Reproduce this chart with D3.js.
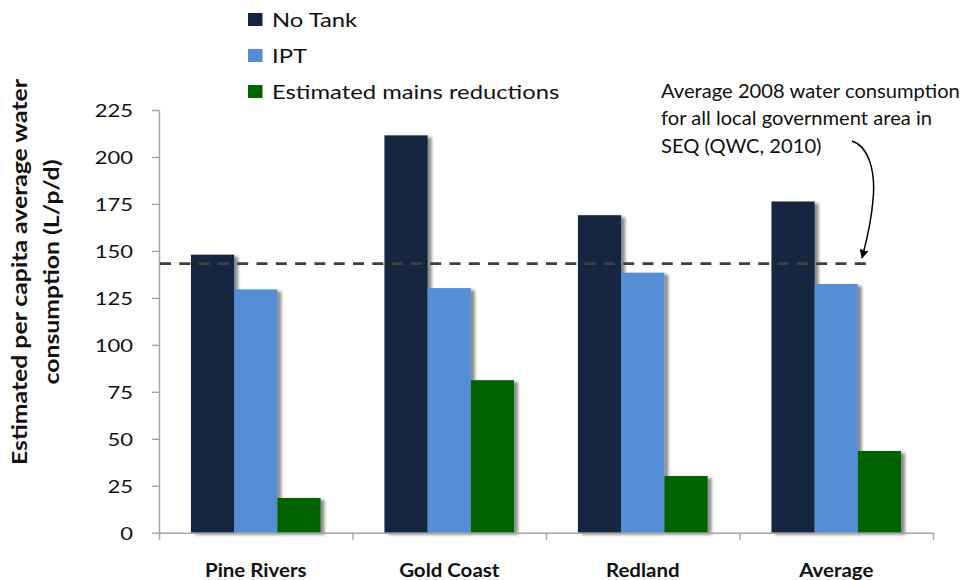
<!DOCTYPE html>
<html>
<head>
<meta charset="utf-8">
<script src="https://cdn.jsdelivr.net/npm/d3@7"></script>
<style>
  html, body { margin: 0; padding: 0; background: #fff; }
  svg { display: block; font-family: Lato, "Open Sans", sans-serif; }
</style>
</head>
<body>
<svg id="chart" width="963" height="580"></svg>
<script>
// ---- data ----
const categories = ["Pine Rivers", "Gold Coast", "Redland", "Average"];
const seriesNames = ["No Tank", "IPT", "Estimated mains reductions"];
const noTank = [148, 211.5, 169, 176.3];
const ipt = [129.5, 130.2, 138.4, 132.4];
const mainsReductions = [18.5, 81.2, 30.2, 43.5];
const yTicks = [0, 25, 50, 75, 100, 125, 150, 175, 200, 225];
const referenceValue = 143.2;
const annotationLines = ["Average 2008 water consumption", "for all local government area in", "SEQ (QWC, 2010)"];
const yTitleLines = ["Estimated per capita average water", "consumption (L/p/d)"];
const colors = ["#12263f", "#558ed5", "#006400"];

const seriesValues = [noTank, ipt, mainsReductions];
const table = categories.map((c, i) => ({
  category: c,
  values: seriesNames.map((s, j) => ({ series: s, idx: j, value: seriesValues[j][i] }))
}));

const svg = d3.select("#chart");

// shadow filter
const defs = svg.append("defs");
const f = defs.append("filter").attr("id", "shadow").attr("x", "-20%").attr("y", "-5%").attr("width", "150%").attr("height", "115%");
f.append("feGaussianBlur").attr("in", "SourceAlpha").attr("stdDeviation", 1.6).attr("result", "b");
f.append("feOffset").attr("in", "b").attr("dx", 3.5).attr("dy", 2).attr("result", "o");
f.append("feComponentTransfer").attr("in", "o").attr("result", "s")
  .append("feFuncA").attr("type", "linear").attr("slope", 0.45);
const fm = f.append("feMerge");
fm.append("feMergeNode").attr("in", "s");
fm.append("feMergeNode").attr("in", "SourceGraphic");

const x0 = 159, x1 = 933, yTop = 110, yBottom = 532.7;

const y = d3.scaleLinear().domain([0, 225]).range([yBottom, yTop]);
const x = d3.scaleBand().domain(categories).range([x0, x1]).paddingInner(0.33).paddingOuter(0.165);
const xs = d3.scaleBand().domain(seriesNames).range([0, x.bandwidth()]).padding(0);
const xb = d3.scaleLinear().domain([0, categories.length]).range([x0, x1]);

// bars
const groups = svg.append("g").selectAll("g").data(table).join("g")
  .attr("transform", d => `translate(${x(d.category)},0)`);
groups.selectAll("rect").data(d => d.values).join("rect")
  .attr("x", d => xs(d.series))
  .attr("y", d => y(d.value))
  .attr("width", xs.bandwidth())
  .attr("height", d => y(0) - y(d.value))
  .attr("fill", d => colors[d.idx])
  .attr("filter", "url(#shadow)");

// y axis
const yAxis = svg.append("g").attr("transform", `translate(${x0},0)`)
  .call(d3.axisLeft(y).tickValues(yTicks).tickSize(7).tickSizeOuter(0).tickPadding(19));
yAxis.select(".domain").attr("stroke", "#a6a6a6").attr("stroke-width", 1.5);
yAxis.selectAll(".tick line").attr("stroke", "#a6a6a6").attr("stroke-width", 1.5);
yAxis.selectAll(".tick text")
  .attr("font-size", 18).attr("fill", "#111").attr("font-family", "Lato")
  .attr("x", 0).attr("dy", "0.36em")
  .attr("transform", "translate(-26,0) scale(1.22,1)");

// x axis (boundary ticks)
const xAxis = svg.append("g").attr("transform", `translate(0,${yBottom})`)
  .call(d3.axisBottom(xb).tickValues(d3.range(categories.length + 1)).tickSize(7).tickSizeOuter(0).tickFormat(""));
xAxis.select(".domain").attr("stroke", "#a6a6a6").attr("stroke-width", 1.5);
xAxis.selectAll(".tick line").attr("stroke", "#a6a6a6").attr("stroke-width", 1.5);

// category labels
svg.append("g").selectAll("text").data(categories).join("text")
  .attr("transform", d => `translate(${x(d) + x.bandwidth() / 2},576.5) scale(1.05,1)`)
  .attr("text-anchor", "middle")
  .attr("font-size", 19.5)
  .attr("font-weight", "bold")
  .attr("fill", "#111")
  .text(d => d);

// reference dashed line
svg.append("line")
  .attr("x1", x0 + 1).attr("x2", 866)
  .attr("y1", y(referenceValue)).attr("y2", y(referenceValue))
  .attr("stroke", "#404040").attr("stroke-width", 2.6)
  .attr("stroke-dasharray", "11,8.3");

// annotation
const ann = svg.append("text").attr("transform", "translate(661,98) scale(1.09,1)")
  .attr("font-size", 18.5).attr("fill", "#111");
annotationLines.forEach((t, i) => ann.append("tspan").attr("x", 0).attr("y", i * 27.5).text(t));

// arrow
defs.append("marker").attr("id", "arrowhead").attr("viewBox", "0 0 10 10").attr("refX", 9).attr("refY", 5)
  .attr("markerWidth", 9).attr("markerHeight", 9).attr("orient", "auto-start-reverse").attr("markerUnits", "userSpaceOnUse")
  .append("path").attr("d", "M0,0 L10,5 L0,10 z").attr("fill", "#000");
svg.append("path")
  .attr("d", "M852,141 C868,146 876,170 873,200 C871,225 866,243 862,258")
  .attr("fill", "none").attr("stroke", "#000").attr("stroke-width", 1.5)
  .attr("marker-end", "url(#arrowhead)");

// legend
const legend = svg.append("g");
seriesNames.forEach((s, i) => {
  const cy = 19.5 + i * 36;
  legend.append("rect").attr("x", 248).attr("y", cy - 6.5).attr("width", 14.5).attr("height", 13).attr("fill", colors[i]);
  legend.append("text").attr("transform", `translate(272,${cy + 7.2}) scale(1.19,1)`)
    .attr("font-size", 20).attr("fill", "#111").text(s);
});

// y title
const yt = svg.append("text").attr("transform", "translate(27,272) rotate(-90) scale(1.19,1)")
  .attr("text-anchor", "middle").attr("font-size", 20.8).attr("font-weight", "bold").attr("fill", "#111");
yTitleLines.forEach((t, i) => yt.append("tspan").attr("x", 0).attr("y", i * 32.5).text(t));
</script>
</body>
</html>
